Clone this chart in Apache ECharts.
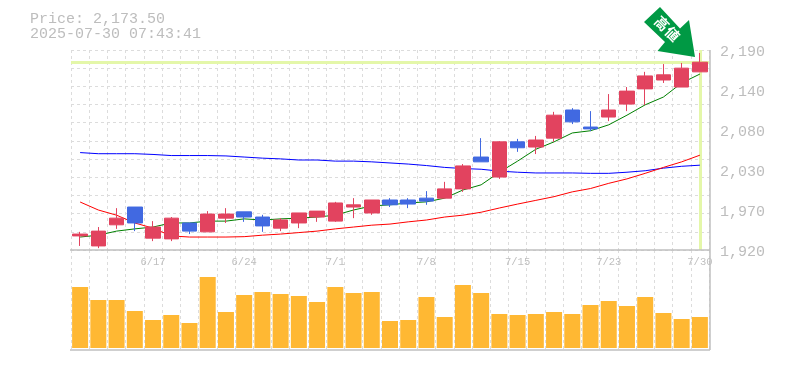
<!DOCTYPE html>
<html><head><meta charset="utf-8">
<style>html,body{margin:0;padding:0;background:#fff}#c{width:785px;height:370px}</style>
<script src="https://cdn.jsdelivr.net/npm/echarts@6/dist/echarts.min.js"></script>
</head><body><div id="c"></div>
<script>
const categories = ['6/11','6/12','6/13','6/16','6/17','6/18','6/19','6/20','6/23','6/24','6/25','6/26','6/27','6/30','7/1','7/2','7/3','7/4','7/7','7/8','7/9','7/10','7/11','7/14','7/15','7/16','7/17','7/18','7/22','7/23','7/24','7/25','7/28','7/29','7/30'];
const shownDates = ['6/17','6/24','7/1','7/8','7/15','7/23','7/30'];
const opens  = [1939,1925.5,1954,1978,1936,1935,1956.5,1944.5,1963,1971.5,1964.5,1949.5,1956.5,1964.5,1959,1978,1970,1987.5,1987.5,1990,1990,2002.5,2045.5,2018.5,2066,2059,2071,2109,2086,2099.5,2117,2137.5,2149.5,2140,2160.5];
const closes = [1941.5,1945.5,1963,1956.5,1951,1963,1945.5,1968.5,1968.5,1964.5,1952.5,1960.5,1970,1972.5,1983.5,1981,1987.5,1981,1982,1986,2002.5,2033.5,2039,2066,2058,2068.5,2102,2093,2083.5,2109,2134.5,2155,2156.5,2165.5,2173.5];
const lows   = [1925.5,1922.5,1948.5,1945.5,1932,1932,1941.5,1944.5,1956.5,1958,1944.5,1945.5,1949.5,1958,1958,1963,1967.5,1978,1976.5,1981,1990,1998.5,2039,2016,2052.5,2049.5,2066,2090,2080.5,2094,2107.5,2115.5,2145.5,2140,2160.5];
const highs  = [1944.5,1951,1976.5,1978,1959,1964.5,1956.5,1972.5,1976.5,1971.5,1967.5,1963,1970,1972.5,1985,1990,1987.5,1990,1990,1999.5,2012,2036,2071,2067,2070,2074,2106.5,2111.5,2107.5,2130.5,2140,2160.5,2171,2172.5,2186];
const maShort = [1937.5,1940,1945.5,1948.5,1951,1956.5,1956.5,1959,1959,1962,1960.5,1962,1963,1964.5,1967,1974,1979.5,1981,1983.5,1985,1990,2001,2008,2025,2040,2056,2066,2078,2081,2089,2102,2116,2126.5,2145.5,2157.5];
const maMid   = [1984.8,1974,1967,1956.5,1949.5,1939,1937.5,1937.5,1937.5,1938,1940,1941.5,1943.5,1945.5,1948.5,1951,1953.5,1955,1958,1960.5,1964.5,1967,1971,1976.7,1982,1987,1992,1998.5,2003,2010,2016,2023.5,2031.5,2039,2048];
const maLong  = [2051.5,2050,2050,2050,2049,2047.5,2047.5,2047.5,2047,2045.5,2044,2043,2041.5,2041.5,2040,2040,2039,2037.5,2036,2034,2031.5,2030,2029,2026.5,2025,2024,2024,2024,2023.5,2023.5,2025,2027,2030.5,2033,2034.5];
const volumes = [61,48,48,37,28,33,25,71,36,53,56,54,52,46,61,55,56,27,28,51,31,63,55,34,33,34,36,34,43,47,42,51,35,29,31];
const priceTicks = [1920,1974,2028,2082,2136,2190];
const priceTickLabels = ['1,920','1,970','2,030','2,080','2,140','2,190'];
const lastPrice = 2173.5;
const titleLines = ['Price: 2,173.50','2025-07-30 07:43:41'];
const arrowWords = ['高','値'];

const MONO = '"Liberation Mono", monospace';
const gridLine = {show:true, lineStyle:{color:'#dcdcdc', type:[3,3], width:1}};
const frame = '#bfbfbf';
const candleData = categories.map((_, i) => [opens[i], closes[i], lows[i], highs[i]]);
const hline = (x1,y1,x2,y2) => ({type:'line', z:20, silent:true, shape:{x1,y1,x2,y2}, style:{stroke:frame, lineWidth:1.5}});

const chart = echarts.init(document.getElementById('c'), null, {renderer:'canvas'});
chart.setOption({
  animation:false,
  backgroundColor:'#fff',
  title:{left:25, top:7, text:titleLines.join('\n'), textStyle:{fontFamily:MONO, fontSize:15, fontWeight:'normal', color:'#bdbdbd', lineHeight:15}},
  grid:[{left:71, top:50, width:638, height:200},{left:71, top:250, width:638, height:100},{left:71, top:52, width:638, height:200}],
  xAxis:[
    {type:'category', gridIndex:0, data:categories, boundaryGap:true, axisLine:{show:false}, axisTick:{show:false}, splitLine:{...gridLine, interval:0},
     axisLabel:{show:true, interval:(i,v)=>shownDates.includes(v), margin:7, fontFamily:MONO, fontSize:10.5, color:'#bfbfbf', hideOverlap:false}},
    {type:'category', gridIndex:1, data:categories, boundaryGap:true, axisLine:{show:false}, axisTick:{show:false}, axisLabel:{show:false}, splitLine:{...gridLine, interval:0}},
    {type:'category', gridIndex:2, data:categories, show:false}
  ],
  yAxis:[
    {type:'value', gridIndex:0, min:1920, max:2190, show:false, splitLine:{show:false}},
    {type:'value', gridIndex:0, min:0, max:11, interval:1, position:'left', axisLine:{show:false}, axisTick:{show:false}, axisLabel:{show:false}, splitLine:gridLine},
    {type:'value', gridIndex:1, min:-2, max:98, show:false, splitLine:{show:false}},
    {type:'value', gridIndex:2, min:1920, max:2190, position:'right', axisLine:{show:false}, axisTick:{show:false}, splitLine:{show:false},
     axisLabel:{customValues:priceTicks, margin:11, fontFamily:MONO, fontSize:15, color:'#bdbdbd',
       formatter:v=>priceTickLabels[priceTicks.indexOf(v)]}}
  ],
  series:[
    {name:'priceLine', type:'line', xAxisIndex:0, yAxisIndex:0, data:[], z:1, symbol:'none',
     markLine:{silent:true, symbol:'none', label:{show:false}, lineStyle:{color:'#e4f7a9', type:'solid', width:3}, animation:false,
       data:[{yAxis:lastPrice},{xAxis:categories[categories.length-1]}]}},
    {name:'maLong', type:'line', xAxisIndex:0, yAxisIndex:0, data:maLong, z:9, symbol:'none', lineStyle:{color:'#0000ff', width:1}},
    {name:'maMid', type:'line', xAxisIndex:0, yAxisIndex:0, data:maMid, z:9, symbol:'none', lineStyle:{color:'#ff0000', width:1}},
    {name:'maShort', type:'line', xAxisIndex:0, yAxisIndex:0, data:maShort, z:9, symbol:'none', lineStyle:{color:'#008000', width:1}},
    {name:'candles', type:'candlestick', xAxisIndex:0, yAxisIndex:0, data:candleData, z:10, barWidth:15,
     itemStyle:{color:'#e2435f', color0:'#4169e1', borderColor:'#e2435f', borderColor0:'#4169e1', borderWidth:1}},
    {name:'volume', type:'bar', xAxisIndex:1, yAxisIndex:2, data:volumes, barWidth:16, itemStyle:{color:'#ffb833'}}
  ],
  graphic:[
    hline(70,250,710,250), hline(70,350,710,350), hline(710,50,710,350),
    {type:'polygon', z:30, silent:true, shape:{points:[[660,7],[644,22],[665,42],[657.5,51],[695,57],[689,20],[680,28.5]]}, style:{fill:'#009944'}},
    {type:'text', z:31, silent:true, x:662, y:23.5, rotation:-Math.PI/4, style:{text:arrowWords[0], fill:'#fff', align:'center', verticalAlign:'middle', font:'bold 14px "Noto Sans CJK JP"'}},
    {type:'text', z:31, silent:true, x:672.5, y:34, rotation:-Math.PI/4, style:{text:arrowWords[1], fill:'#fff', align:'center', verticalAlign:'middle', font:'bold 14px "Noto Sans CJK JP"'}}
  ]
});
</script></body></html>
